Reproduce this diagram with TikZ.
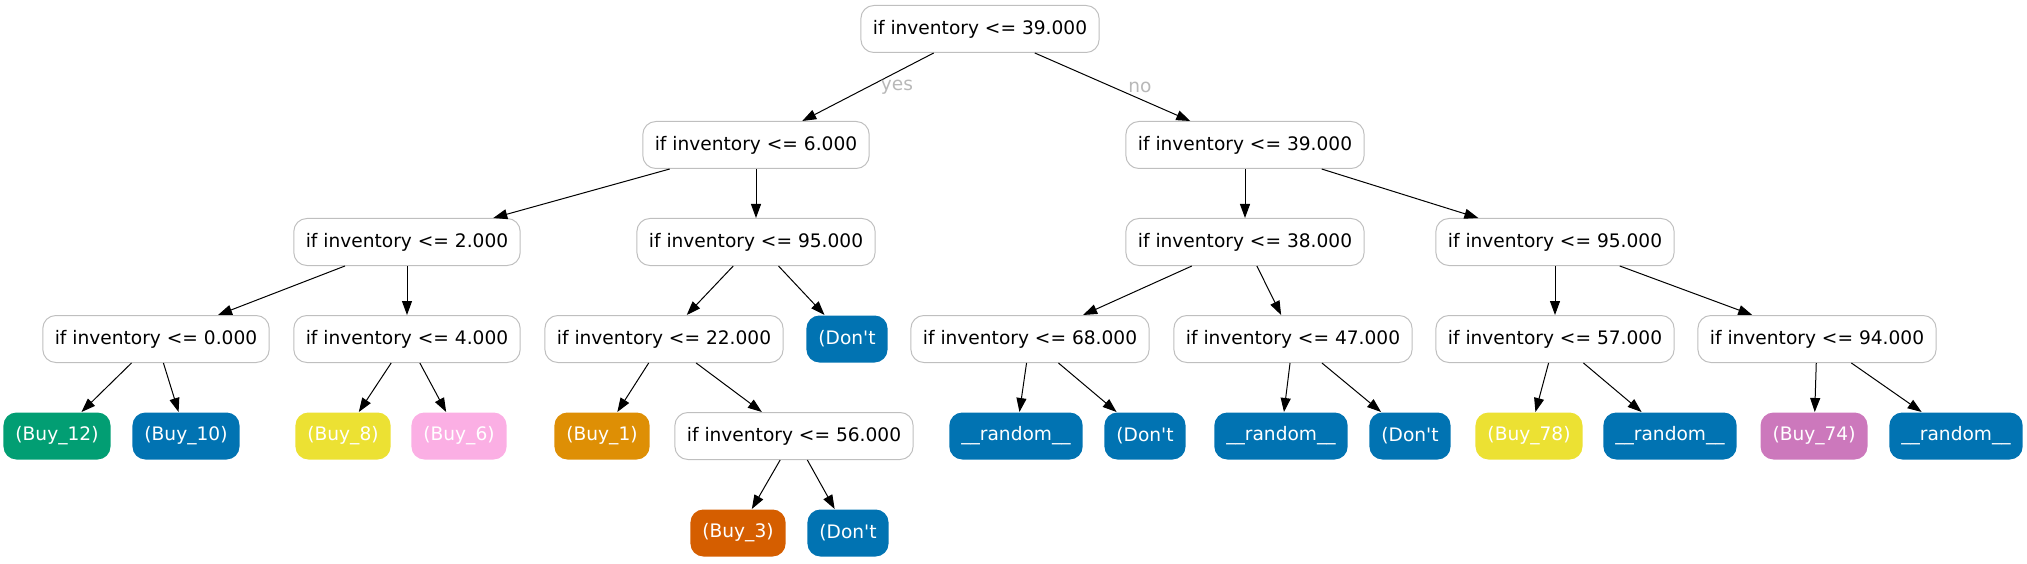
\documentclass[tikz,border=0pt]{standalone}
\usepackage{fontspec}
\setmainfont{DejaVu Sans}
\usetikzlibrary{arrows.meta}
\definecolor{cbblue}{HTML}{0173B2}
\definecolor{cbgreen}{HTML}{029E73}
\definecolor{cborange}{HTML}{DE8F05}
\definecolor{cbred}{HTML}{D55E00}
\definecolor{cbyellow}{HTML}{ECE133}
\definecolor{cbpink}{HTML}{FBAFE4}
\definecolor{cbpurple}{HTML}{CC78BC}

\begin{document}
\begin{tikzpicture}[x=1pt,y=-1pt,>={Triangle[length=14pt,width=10pt]},
  every node/.style={font=\fontsize{18.6}{22}\selectfont},
  test/.style={draw=black!25,line width=1pt,rounded corners=13pt,minimum height=47pt,inner xsep=12pt},
  leaf/.style={fill=#1,text=white,rounded corners=13pt,minimum height=47pt,inner xsep=12pt},
  every path/.style={line width=1pt}]
  \useasboundingbox (0,0) rectangle (2027,564);
  % level 0 and 1
  \node[test] (root) at (980,29){if inventory <= 39.000};
  \node[test] (t6) at (756,145){if inventory <= 6.000};
  \node[test] (t39) at (1245,145){if inventory <= 39.000};
  % level 2
  \node[test] (t2) at (407,242){if inventory <= 2.000};
  \node[test] (t95a) at (756,242){if inventory <= 95.000};
  \node[test] (t38) at (1245,242){if inventory <= 38.000};
  \node[test] (t95b) at (1555,242){if inventory <= 95.000};
  % level 3
  \node[test] (t0) at (156,339){if inventory <= 0.000};
  \node[test] (t4) at (407,339){if inventory <= 4.000};
  \node[test] (t22) at (664,339){if inventory <= 22.000};
  \node[leaf=cbblue] (dont1) at (847,339){(Don\textquotesingle t};
  \node[test] (t68) at (1030,339){if inventory <= 68.000};
  \node[test] (t47) at (1293,339){if inventory <= 47.000};
  \node[test] (t57) at (1555,339){if inventory <= 57.000};
  \node[test] (t94) at (1817,339){if inventory <= 94.000};
  % level 4
  \node[leaf=cbgreen] (buy12) at (57,436){(Buy\_12)};
  \node[leaf=cbblue] (buy10) at (186,436){(Buy\_10)};
  \node[leaf=cbyellow] (buy8) at (343,436){(Buy\_8)};
  \node[leaf=cbpink] (buy6) at (459,436){(Buy\_6)};
  \node[leaf=cborange] (buy1) at (602,436){(Buy\_1)};
  \node[test] (t56) at (794,436){if inventory <= 56.000};
  \node[leaf=cbblue] (rnd1) at (1016,436){\_\_random\_\_};
  \node[leaf=cbblue] (dont2) at (1145,436){(Don\textquotesingle t};
  \node[leaf=cbblue] (rnd2) at (1281,436){\_\_random\_\_};
  \node[leaf=cbblue] (dont3) at (1410,436){(Don\textquotesingle t};
  \node[leaf=cbyellow] (buy78) at (1529,436){(Buy\_78)};
  \node[leaf=cbblue] (rnd3) at (1670,436){\_\_random\_\_};
  \node[leaf=cbpurple] (buy74) at (1814,436){(Buy\_74)};
  \node[leaf=cbblue] (rnd4) at (1956,436){\_\_random\_\_};
  % level 5
  \node[leaf=cbred] (buy3) at (738,533){(Buy\_3)};
  \node[leaf=cbblue] (dont4) at (848,533){(Don\textquotesingle t};
  % edges
  \draw[->] (root)--(t6) node[midway,right=9pt,text=black!28]{yes};
  \draw[->] (root)--(t39) node[midway,right=12pt,text=black!28]{no};
  \draw[->] (t6)--(t2); \draw[->] (t6)--(t95a);
  \draw[->] (t39)--(t38); \draw[->] (t39)--(t95b);
  \draw[->] (t2)--(t0); \draw[->] (t2)--(t4);
  \draw[->] (t95a)--(t22); \draw[->] (t95a)--(dont1);
  \draw[->] (t38)--(t68); \draw[->] (t38)--(t47);
  \draw[->] (t95b)--(t57); \draw[->] (t95b)--(t94);
  \draw[->] (t0)--(buy12); \draw[->] (t0)--(buy10);
  \draw[->] (t4)--(buy8); \draw[->] (t4)--(buy6);
  \draw[->] (t22)--(buy1); \draw[->] (t22)--(t56);
  \draw[->] (t68)--(rnd1); \draw[->] (t68)--(dont2);
  \draw[->] (t47)--(rnd2); \draw[->] (t47)--(dont3);
  \draw[->] (t57)--(buy78); \draw[->] (t57)--(rnd3);
  \draw[->] (t94)--(buy74); \draw[->] (t94)--(rnd4);
  \draw[->] (t56)--(buy3); \draw[->] (t56)--(dont4);
\end{tikzpicture}
\end{document}
